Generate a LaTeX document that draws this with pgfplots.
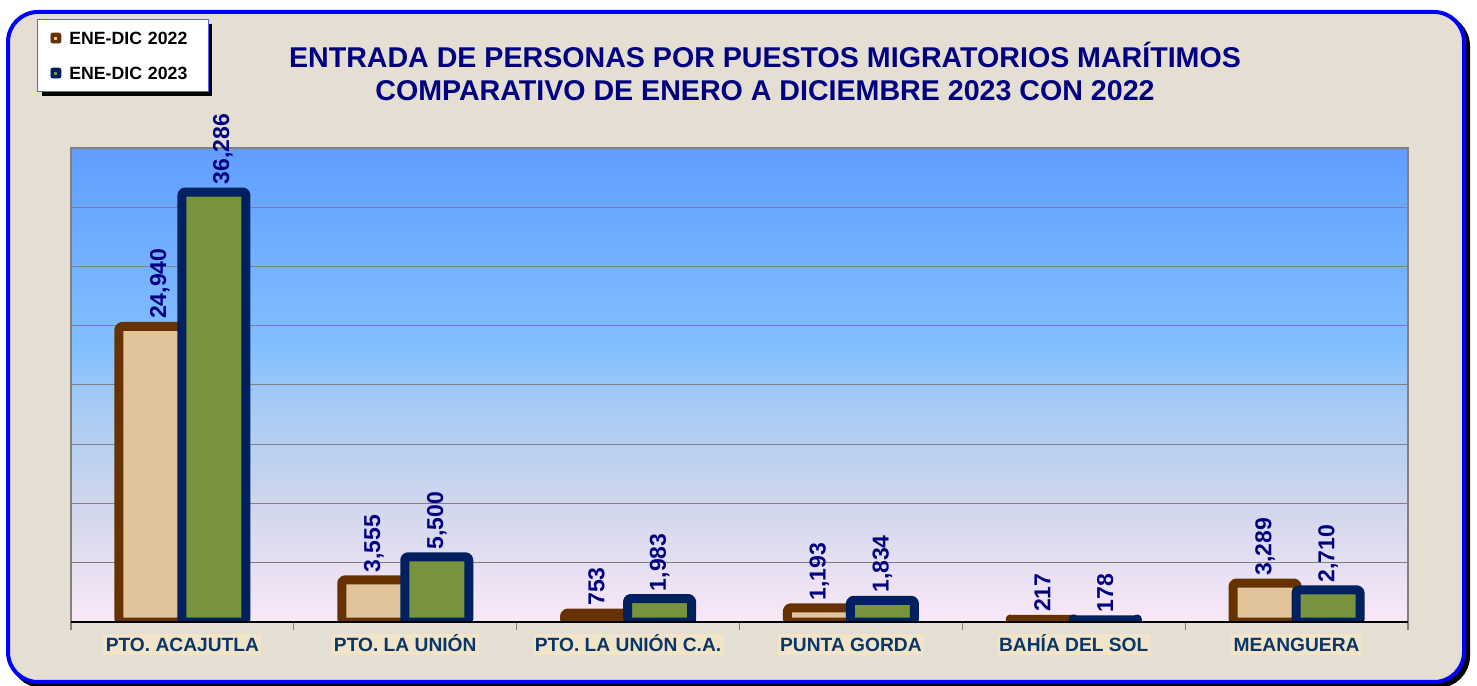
\documentclass[border=0pt]{standalone}
\usepackage{fontspec}
\setmainfont{Liberation Sans}
\usepackage{pgfplots}
\pgfplotsset{compat=1.18}
\definecolor{bgbeige}{RGB}{229,223,211}
\definecolor{frameblue}{RGB}{0,0,255}
\definecolor{titlenavy}{RGB}{0,0,128}
\definecolor{catblue}{RGB}{10,55,105}
\definecolor{lblbg}{RGB}{241,228,200}
\definecolor{brownb}{RGB}{102,51,0}
\definecolor{tanfill}{RGB}{226,196,154}
\definecolor{navyb}{RGB}{0,32,96}
\definecolor{olivef}{RGB}{119,147,60}
\definecolor{legborder}{RGB}{90,90,255}
\definecolor{gbot}{RGB}{250,232,248}
\definecolor{gone}{RGB}{208,214,236}
\definecolor{gtwo}{RGB}{168,203,244}
\definecolor{gthree}{RGB}{130,191,255}
\definecolor{gtop}{RGB}{95,158,255}
\pgfdeclareverticalshading{plotbg}{100bp}{color(0bp)=(gbot); color(25bp)=(gbot); color(37.5bp)=(gone); color(47.5bp)=(gtwo); color(54bp)=(gthree); color(75bp)=(gtop); color(100bp)=(gtop)}
\begin{document}
\begin{tikzpicture}
\useasboundingbox (0,0) rectangle (738.5pt,342.5pt);
\fill[white] (0,0) rectangle (738.5pt,342.5pt);
\filldraw[fill=black, draw=black, line width=2pt, rounded corners=15pt] (6pt,-0.5pt) rectangle (734pt,334.5pt);
\filldraw[fill=bgbeige, draw=frameblue, line width=2pt, rounded corners=15pt] (4pt,1.5pt) rectangle (732pt,336.5pt);
% legend shadow
\fill[black] (21pt,294.5pt) rectangle (106pt,330.5pt);
\node[align=center, font=\bfseries\fontsize{14.3}{16.5}\selectfont, text=titlenavy] at (382.5pt,307pt) {ENTRADA DE PERSONAS POR PUESTOS MIGRATORIOS MARÍTIMOS\\COMPARATIVO DE ENERO A DICIEMBRE 2023 CON 2022};
\begin{axis}[
  at={(35.5pt,31.5pt)}, anchor=south west,
  scale only axis, width=668.5pt, height=237pt,
  xmin=-0.5, xmax=5.5, ymin=0, ymax=40000,
  scaled y ticks=false,
  ybar, bar width=32pt,
  xtick={-0.5,0.5,1.5,2.5,3.5,4.5,5.5}, xticklabels={},
  xtick pos=bottom, ytick pos=left,
  xtick align=outside,
  major x tick style={draw=gray, line width=0.6pt},
  major tick length=4pt,
  major y tick style={draw=none},
  extra x ticks={0,1,2,3,4,5},
  extra x tick labels={PTO. ACAJUTLA, PTO. LA UNIÓN, PTO. LA UNIÓN C.A., PUNTA GORDA, BAHÍA DEL SOL, MEANGUERA},
  extra x tick style={major tick length=0pt, major x tick style={draw=none},
    xticklabel style={font=\bfseries\fontsize{9.6}{11}\selectfont, text=catblue, fill=lblbg, inner xsep=1.2pt, inner ysep=1.6pt, text height=7pt, text depth=0.3pt, anchor=north, yshift=-6pt}},
  ytick={5000,10000,15000,20000,25000,30000,35000}, yticklabels={},
  ymajorgrids, grid style={draw=gray, line width=0.5pt},
  axis line style={draw=gray, line width=0.8pt},
  axis background/.style={shade, shading=plotbg},
  nodes near coords={\pgfmathprintnumber[fixed,precision=0,1000 sep={,},assume math mode=true]{\pgfplotspointmeta}},
  nodes near coords style={rotate=90, anchor=west, font=\bfseries\fontsize{11.5}{13}\selectfont, text=titlenavy, inner xsep=1.5pt, inner ysep=0pt},
  coordinate style/.condition={x==0}{xshift=4.5pt},
  legend style={at={(-0.0254,1.272)}, anchor=north west, draw=legborder, line width=0.5pt, fill=white,
    font=\bfseries\fontsize{8.85}{10}\selectfont,
    inner xsep=6.5pt, inner ysep=4pt, row sep=7pt,
    /tikz/every odd column/.append style={column sep=2pt},
    nodes={text width=61pt, text height=6.5pt, text depth=0pt, inner sep=2pt}},
  legend cell align=left,
]
\addlegendimage{legend image code/.code={\draw[fill=brownb, draw=brownb, line width=0.4pt, rounded corners=1pt] (0pt,-2.5pt) rectangle (5pt,2.5pt); \fill[tanfill] (2pt,-0.5pt) rectangle (3pt,0.5pt);}}
\addlegendentry{ENE-DIC 2022}
\addlegendimage{legend image code/.code={\draw[fill=navyb, draw=navyb, line width=0.4pt, rounded corners=1pt] (0pt,-2.5pt) rectangle (5pt,2.5pt); \fill[olivef] (2pt,-0.5pt) rectangle (3pt,0.5pt);}}
\addlegendentry{ENE-DIC 2023}
\addplot[fill=tanfill, draw=brownb, line width=4.5pt, line join=round, rounded corners=1.5pt, bar shift=-15.75pt, forget plot]
  coordinates {(0,24940) (1,3555) (2,753) (3,1193) (4,217) (5,3289)};
\addplot[fill=olivef, draw=navyb, line width=4.5pt, line join=round, rounded corners=1.5pt, bar shift=15.75pt, forget plot]
  coordinates {(0,36286) (1,5500) (2,1983) (3,1834) (4,178) (5,2710)};
\draw[black, line width=0.8pt] (rel axis cs:0,0) -- (rel axis cs:1,0);
\end{axis}
\end{tikzpicture}
\end{document}
